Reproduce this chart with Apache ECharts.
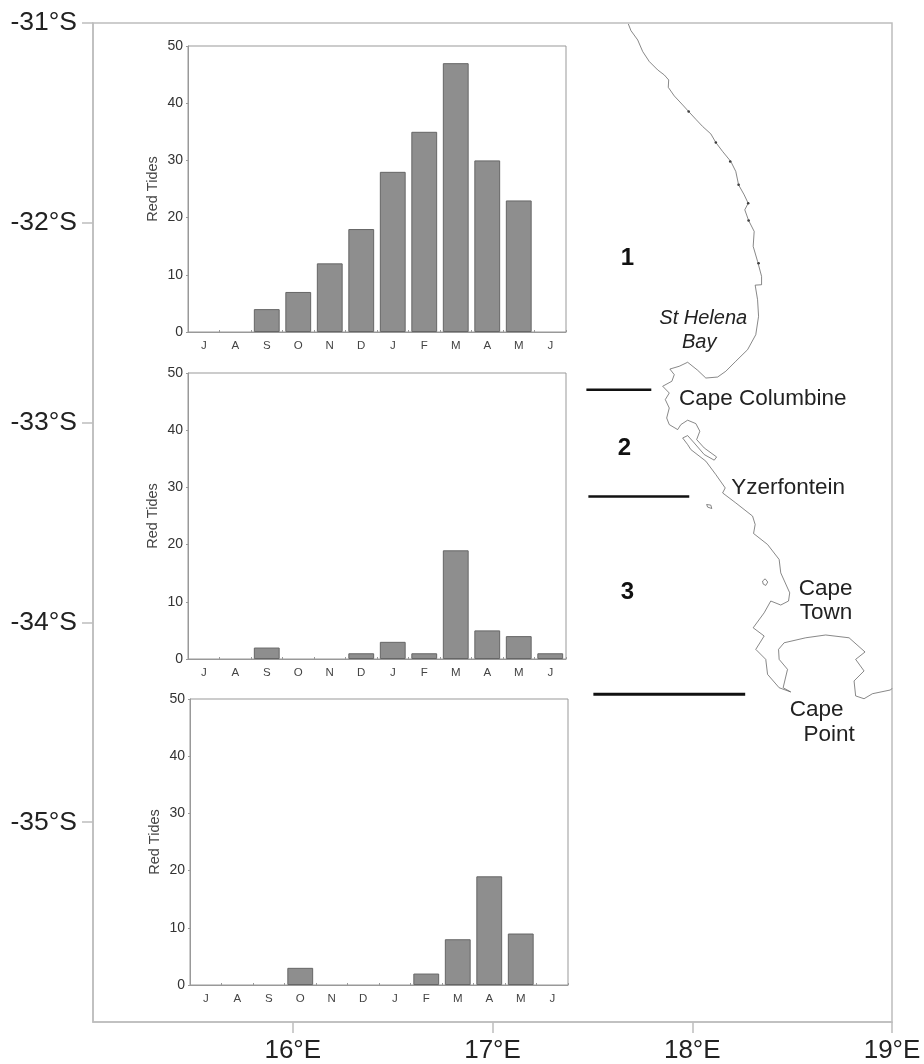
<!DOCTYPE html>
<html><head><meta charset="utf-8">
<style>html,body{margin:0;padding:0;background:#fff}#c{width:924px;height:1064px}</style>
<script src="https://cdn.jsdelivr.net/npm/echarts@6/dist/echarts.min.js"></script>
</head><body><div id="c"></div>
<script>
const months = ['J','A','S','O','N','D','J','F','M','A','M','J'];
const zone1Tides = [0,0,4,7,12,18,28,35,47,30,23,0];
const zone2Tides = [0,0,2,0,0,1,3,1,19,5,4,1];
const zone3Tides = [0,0,0,3,0,0,0,2,8,19,9,0];
const lonTicks = [16,17,18,19];
const latTicks = [-31,-32,-33,-34,-35];
const coast = [[17.680,-31.005],[17.693,-31.038],[17.727,-31.085],[17.752,-31.143],[17.785,-31.193],[17.827,-31.235],[17.860,-31.260],[17.882,-31.285],[17.880,-31.322],[17.910,-31.365],[17.952,-31.410],[17.982,-31.443],[18.018,-31.482],[18.052,-31.518],[18.093,-31.555],[18.118,-31.598],[18.152,-31.643],[18.193,-31.693],[18.218,-31.743],[18.232,-31.810],[18.260,-31.860],[18.280,-31.902],[18.263,-31.935],[18.282,-31.988],[18.310,-32.043],[18.305,-32.118],[18.327,-32.193],[18.347,-32.268],[18.347,-32.310],[18.315,-32.312],[18.327,-32.385],[18.332,-32.468],[18.318,-32.560],[18.277,-32.635],[18.218,-32.693],[18.168,-32.743],[18.127,-32.772],[18.068,-32.777],[18.027,-32.738],[17.977,-32.698],[17.935,-32.718],[17.888,-32.732],[17.910,-32.760],[17.898,-32.793],[17.852,-32.818],[17.885,-32.852],[17.865,-32.885],[17.885,-32.927],[17.872,-32.977],[17.885,-33.010],[17.927,-33.035],[17.943,-33.010],[17.977,-32.988],[18.018,-33.005],[18.038,-33.043],[18.022,-33.085],[18.060,-33.127],[18.122,-33.172],[18.110,-33.188],[18.060,-33.160],[18.010,-33.102],[17.977,-33.065],[17.952,-33.077],[17.977,-33.110],[17.993,-33.135],[18.068,-33.193],[18.118,-33.260],[18.165,-33.327],[18.152,-33.352],[18.218,-33.402],[18.302,-33.468],[18.315,-33.510],[18.307,-33.555],[18.377,-33.610],[18.435,-33.685],[18.443,-33.752],[18.488,-33.852],[18.482,-33.893],[18.443,-33.913],[18.393,-33.893],[18.360,-33.952],[18.305,-34.027],[18.360,-34.068],[18.318,-34.135],[18.368,-34.185],[18.377,-34.260],[18.435,-34.327],[18.493,-34.348],[18.455,-34.327],[18.477,-34.235],[18.435,-34.185],[18.432,-34.135],[18.460,-34.102],[18.568,-34.077],[18.668,-34.063],[18.785,-34.077],[18.865,-34.148],[18.818,-34.185],[18.860,-34.243],[18.810,-34.293],[18.818,-34.368],[18.860,-34.382],[18.902,-34.357],[18.993,-34.338],[19.000,-34.330]];
const robbenIsland = [[18.352,-33.793],[18.365,-33.782],[18.378,-33.798],[18.368,-33.815],[18.355,-33.808],[18.352,-33.793]];
const dassenIsland = [[18.072,-33.410],[18.093,-33.413],[18.098,-33.430],[18.077,-33.423],[18.072,-33.410]];
const coastSpots = [[17.982,-31.443],[18.118,-31.598],[18.190,-31.693],[18.232,-31.810],[18.280,-31.902],[18.282,-31.988],[18.332,-32.202]];
const boundary1 = [[17.47,-32.835],[17.795,-32.835]];
const boundary2 = [[17.48,-33.37],[17.985,-33.37]];
const boundary3 = [[17.505,-34.36],[18.265,-34.36]];
const zoneLabels = [['1',17.675,-32.18],['2',17.66,-33.13],['3',17.675,-33.85]];
const placeLabels = [['Cape Columbine',18.353,-32.88],['Yzerfontein',18.48,-33.325],['Cape',18.668,-33.83],['Town',18.67,-33.95],['Cape',18.623,-34.435],['Point',18.685,-34.562]];
const bayLabels = [['St Helena',18.055,-32.48],['Bay',18.035,-32.6]];

const FONT = '"Liberation Sans", Arial, sans-serif';
const panels = [
  {data:zone1Tides,left:188,top:46,width:378,height:286},
  {data:zone2Tides,left:188,top:373,width:378,height:286},
  {data:zone3Tides,left:190,top:699,width:378,height:286}
];
const grid = [{left:93,top:23,width:799,height:999,show:true,borderColor:'#bdbdbd',borderWidth:1.5,backgroundColor:'#fff'}];
const xAxis = [{type:'value',gridIndex:0,min:15,max:19,interval:1,
  axisLine:{lineStyle:{color:'#bdbdbd',width:1.5}},
  axisTick:{show:true,length:11,customValues:lonTicks,lineStyle:{color:'#bdbdbd',width:1.5}},
  axisLabel:{customValues:lonTicks,formatter:'{value}°E',fontFamily:FONT,fontSize:26,color:'#222',margin:16},
  splitLine:{show:false}}];
const yAxis = [{type:'value',gridIndex:0,min:-36,max:-31,interval:1,
  axisLine:{lineStyle:{color:'#bdbdbd',width:1.5}},
  axisTick:{show:true,length:11,customValues:latTicks,lineStyle:{color:'#bdbdbd',width:1.5}},
  axisLabel:{customValues:latTicks,formatter:'{value}°S',fontFamily:FONT,fontSize:26.5,color:'#222',margin:16,padding:[5,0,0,0]},
  splitLine:{show:false}}];
const lineS = (data,w,c)=>({type:'line',xAxisIndex:0,yAxisIndex:0,data,symbol:'none',silent:true,z:3,lineStyle:{color:c,width:w}});
const labelS = (rows,font)=>({type:'scatter',xAxisIndex:0,yAxisIndex:0,symbolSize:0,silent:true,z:4,
  itemStyle:{opacity:1},
  data:rows.map(r=>({value:[r[1],r[2]],name:r[0]})),
  label:Object.assign({show:true,position:'inside',formatter:p=>p.name,fontFamily:FONT,color:'#222'},font)});
const series = [
  lineS(coast,0.7,'#555'),lineS(robbenIsland,0.7,'#555'),lineS(dassenIsland,0.7,'#555'),
  {type:'scatter',xAxisIndex:0,yAxisIndex:0,data:coastSpots,symbolSize:2.5,silent:true,itemStyle:{color:'#333',opacity:1}},
  lineS(boundary1,2.5,'#111'),lineS(boundary2,2.5,'#111'),lineS(boundary3,3,'#111'),
  labelS(zoneLabels,{fontSize:24,fontWeight:'bold',color:'#111'}),
  labelS(placeLabels,{fontSize:22.5}),
  labelS(bayLabels,{fontSize:20,fontStyle:'italic'})
];
panels.forEach((p,i)=>{
  const k=i+1;
  grid.push({left:p.left,top:p.top,width:p.width,height:p.height,show:true,borderColor:'#999',borderWidth:1,backgroundColor:'#fff',z:2});
  xAxis.push({type:'category',gridIndex:k,data:months,
    axisLine:{lineStyle:{color:'#999'}},
    axisTick:{show:true,inside:true,length:2,lineStyle:{color:'#999'}},
    axisLabel:{interval:0,fontFamily:FONT,fontSize:11.5,color:'#444',margin:8},
    z:3});
  yAxis.push({type:'value',gridIndex:k,min:0,max:50,interval:10,
    name:'Red Tides',nameLocation:'middle',nameGap:28,
    nameTextStyle:{fontFamily:FONT,fontSize:14.5,color:'#444'},
    axisLine:{show:true,lineStyle:{color:'#999'}},
    axisTick:{show:true,length:2,lineStyle:{color:'#999'}},
    axisLabel:{fontFamily:FONT,fontSize:14,color:'#333',margin:5,padding:[2,0,0,0]},
    splitLine:{show:false},z:3});
  series.push({type:'bar',xAxisIndex:k,yAxisIndex:k,
    data:p.data.map(v=>v===0?{value:v,itemStyle:{borderWidth:0}}:v),
    barWidth:'82%',silent:true,z:3,
    itemStyle:{color:'#8e8e8e',borderColor:'#666',borderWidth:1}});
});
const chart = echarts.init(document.getElementById('c'),null,{renderer:'canvas'});
chart.setOption({animation:false,backgroundColor:'#fff',tooltip:{show:false},grid,xAxis,yAxis,series});
</script></body></html>
